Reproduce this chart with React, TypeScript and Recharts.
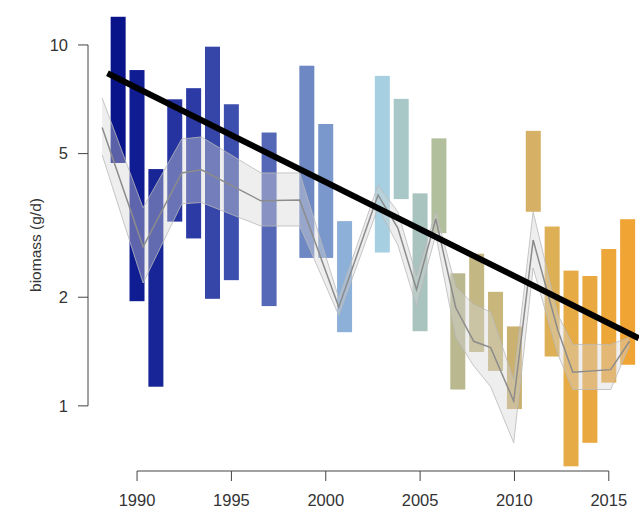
import React from 'react';
import {
  ComposedChart, Bar, Area, Line, Cell,
  XAxis, YAxis, ReferenceLine, Label,
} from 'recharts';

// yearly ranges (g/d)
const years = [1989, 1990, 1991, 1992, 1993, 1994, 1995, 1997, 1999, 2000, 2001, 2003, 2004,
  2005, 2006, 2007, 2008, 2009, 2010, 2011, 2012, 2013, 2014, 2015, 2016];
const lows = [4.71, 1.95, 1.13, 3.24, 2.91, 1.98, 2.23, 1.89, 2.57, 2.57, 1.60, 2.66, 3.74,
  1.61, 3.01, 1.11, 1.41, 1.25, 0.98, 3.45, 1.37, 0.68, 0.79, 1.16, 1.30];
const highs = [11.97, 8.52, 4.53, 7.07, 7.59, 9.89, 6.85, 5.72, 8.76, 6.04, 3.25, 8.21, 7.09,
  3.88, 5.51, 2.33, 2.64, 2.07, 1.66, 5.78, 3.14, 2.37, 2.29, 2.72, 3.29];

const barColors = ['#0a148a', '#0f1c92', '#172597', '#2433a0', '#2b3aa4', '#3545a8', '#3d4fae',
  '#5568b8', '#6e88c4', '#7a98cc', '#8cb0d8', '#a6d0e2', '#a8c8c8', '#a9c3be', '#b2bf9c',
  '#b9b88f', '#c3b784', '#c8b67a', '#cbb170', '#d6b065', '#deb055', '#e6ab45', '#e9a940',
  '#eda638', '#f0a434'];

// model band (grey) – vertices
const bandX = [1988.15, 1990.32, 1992.37, 1993.41, 1996.56, 1998.62, 2000.69, 2002.77, 2003.82,
  2004.81, 2005.83, 2006.89, 2007.84, 2008.74, 2009.96, 2010.99, 2012.3, 2013.09, 2015.1, 2016.1];
const bandUpper = [7.13, 3.54, 5.49, 5.56, 4.42, 4.42, 1.99, 4.09, 3.45, 2.29, 3.45, 2.14, 1.91,
  1.82, 1.18, 3.45, 1.79, 1.48, 1.48, 1.55];
const bandMid = [5.91, 2.76, 4.42, 4.51, 3.70, 3.72, 1.88, 3.84, 3.11, 2.10, 3.30, 1.87, 1.51,
  1.45, 1.03, 2.88, 1.62, 1.24, 1.26, 1.51];
const bandLower = [4.96, 2.19, 3.63, 3.66, 3.15, 3.15, 1.78, 3.54, 2.79, 1.89, 2.98, 1.55, 1.29,
  1.13, 0.79, 2.41, 1.39, 1.11, 1.11, 1.47];

// trend line end points
const trendX = [1988.43, 2016.59];
const trendY = [8.35, 1.54];

const yTicks = [1, 2, 5, 10];
const xTicks = [1990, 1995, 2000, 2005, 2010, 2015];

const X_MIN = 1987.4;
const X_MAX = 2016.6;
const Y_MIN = 0.66;
const Y_MAX = 12.34;

const W = 639;
const H = 509;
const BAR_W = 15;
const FONT = '"Liberation Sans", Arial, Helvetica, sans-serif';
const AXIS = '#444';

const barData = years.map((year, i) => ({ year, range: [lows[i], highs[i]] }));
const bandData = bandX.map((year, i) => ({
  year,
  band: [bandLower[i], bandUpper[i]],
  mid: bandMid[i],
}));
const trendData = trendX.map((year, i) => ({ year, fit: trendY[i] }));

// numeric x axis squeezes bars, so keep the centre recharts gives and widen it
const RangeBar = (props: any) => {
  const { x, y, width, height, fill } = props;
  if (height == null || isNaN(height)) return null;
  const cx = x + width / 2;
  return <rect x={cx - BAR_W / 2} y={y} width={BAR_W} height={height} fill={fill} />;
};

const YTitle = () => (
  <text
    x={35}
    y={245}
    transform="rotate(-90 35 245)"
    textAnchor="middle"
    dominantBaseline="central"
    fill="#333"
    fontSize={15.5}
    fontFamily={FONT}
  >
    biomass (g/d)
  </text>
);

const layer: React.CSSProperties = { position: 'absolute', left: 0, top: 0 };

export default function App() {
  return (
    <div style={{ position: 'absolute', left: 0, top: 0, width: W, height: H, background: '#fff' }}>
      {/* bottom layer: axes and yearly bars */}
      <div style={layer}>
        <ComposedChart
          width={W}
          height={H}
          data={barData}
          margin={{ top: 12, right: 0, bottom: 0, left: 0 }}
        >
          <XAxis
            type="number"
            dataKey="year"
            domain={[X_MIN, X_MAX]}
            allowDataOverflow
            ticks={xTicks}
            interval={0}
            height={38}
            axisLine={false}
            tickSize={10}
            tickMargin={13}
            tickLine={{ stroke: AXIS }}
            tick={{ fill: '#333', fontSize: 16.5, fontFamily: FONT }}
          />
          <YAxis
            scale="log"
            domain={[Y_MIN, Y_MAX]}
            allowDataOverflow
            ticks={yTicks}
            interval={0}
            width={88}
            axisLine={false}
            tickSize={10}
            tickMargin={10}
            tickLine={{ stroke: AXIS }}
            tick={{ fill: '#333', fontSize: 16.5, fontFamily: FONT }}
          >
            <Label content={YTitle} />
          </YAxis>

          {/* detached R-style axis lines */}
          <ReferenceLine
            segment={[{ x: X_MIN, y: 1 }, { x: X_MIN, y: 10 }]}
            stroke={AXIS}
            ifOverflow="visible"
          />
          <ReferenceLine
            segment={[{ x: 1990, y: Y_MIN }, { x: 2015, y: Y_MIN }]}
            stroke={AXIS}
            ifOverflow="visible"
          />

          <Bar dataKey="range" shape={RangeBar} isAnimationActive={false}>
            {barData.map((d, i) => (
              <Cell key={d.year} fill={barColors[i]} />
            ))}
          </Bar>
        </ComposedChart>
      </div>

      {/* top layer: model band, median and trend, same scales */}
      <div style={layer}>
        <ComposedChart
          width={W}
          height={H}
          data={bandData}
          margin={{ top: 12, right: 0, bottom: 38, left: 88 }}
        >
          <XAxis type="number" dataKey="year" domain={[X_MIN, X_MAX]} allowDataOverflow hide />
          <YAxis scale="log" domain={[Y_MIN, Y_MAX]} allowDataOverflow hide />
          <Area
            dataKey="band"
            type="linear"
            fill="rgb(212,212,212)"
            fillOpacity={0.4}
            stroke="rgba(185,185,185,0.8)"
            strokeWidth={1}
            dot={false}
            activeDot={false}
            isAnimationActive={false}
          />
          <Line
            dataKey="mid"
            type="linear"
            stroke="#8c8c8c"
            strokeWidth={1.5}
            dot={false}
            activeDot={false}
            isAnimationActive={false}
          />
          <Line
            data={trendData}
            dataKey="fit"
            type="linear"
            stroke="#000"
            strokeWidth={6}
            dot={false}
            activeDot={false}
            isAnimationActive={false}
          />
        </ComposedChart>
      </div>
    </div>
  );
}
